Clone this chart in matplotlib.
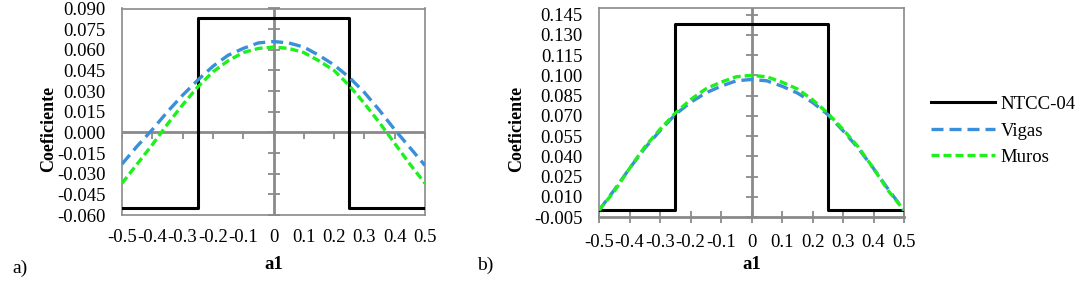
import numpy as np
import matplotlib
matplotlib.use('Agg')
import matplotlib.pyplot as plt

plt.rcParams['font.family'] = ['Liberation Serif', 'DejaVu Serif']
plt.rcParams['axes.unicode_minus'] = False

# a1 positions (shared)
a1 = [-0.5, -0.45, -0.4, -0.35, -0.3, -0.25, -0.2, -0.15, -0.1, -0.05, 0.0,
      0.05, 0.1, 0.15, 0.2, 0.25, 0.3, 0.35, 0.4, 0.45, 0.5]

# panel a)
ntcc_x = [-0.5, -0.25, -0.25, 0.25, 0.25, 0.5]
ntcc_a = [-0.055, -0.055, 0.083, 0.083, -0.055, -0.055]
vigas_a = [-0.023, -0.010, 0.002, 0.015, 0.027, 0.038, 0.048, 0.056, 0.061, 0.065, 0.066,
           0.065, 0.062, 0.056, 0.049, 0.040, 0.029, 0.016, 0.002, -0.011, -0.024]
muros_a = [-0.037, -0.023, -0.009, 0.006, 0.020, 0.033, 0.044, 0.052, 0.058, 0.061, 0.062,
           0.061, 0.058, 0.052, 0.045, 0.034, 0.021, 0.007, -0.008, -0.023, -0.037]

# panel b)
ntcc_b = [0.0, 0.0, 0.138, 0.138, 0.0, 0.0]
vigas_b = [0.000, 0.015, 0.031, 0.046, 0.059, 0.071, 0.080, 0.087, 0.092, 0.096, 0.097,
           0.096, 0.092, 0.087, 0.080, 0.071, 0.059, 0.046, 0.031, 0.015, 0.000]
muros_b = [0.000, 0.014, 0.031, 0.047, 0.060, 0.072, 0.082, 0.090, 0.095, 0.099, 0.100,
           0.099, 0.095, 0.090, 0.082, 0.072, 0.060, 0.047, 0.031, 0.014, 0.000]

xticks = [-0.5, -0.4, -0.3, -0.2, -0.1, 0, 0.1, 0.2, 0.3, 0.4, 0.5]
xticklabels = ['-0.5', '-0.4', '-0.3', '-0.2', '-0.1', '0', '0.1', '0.2', '0.3', '0.4', '0.5']
yticks_a = [-0.060, -0.045, -0.030, -0.015, 0.000, 0.015, 0.030, 0.045, 0.060, 0.075, 0.090]
yticks_b = [-0.005, 0.010, 0.025, 0.040, 0.055, 0.070, 0.085, 0.100, 0.115, 0.130, 0.145]

blue = '#3a8fd9'
green = '#1ef01e'
gray = '#8a8a8a'

fig = plt.figure(figsize=(10.82, 2.84), dpi=100)
ax1 = fig.add_axes([122/1082, 1-215/284, 303/1082, 206.5/284])
ax2 = fig.add_axes([599/1082, 1-217/284, 305/1082, 209/284])


def draw(ax, ntcc, vigas, muros, yticks, ylim, xaxis_at_zero):
    ax.plot(ntcc_x, ntcc, color='black', lw=2.2, label='NTCC-04', zorder=4)
    ax.plot(a1, vigas, color=blue, lw=2.4, dashes=(3.6, 1.8), label='Vigas', zorder=5)
    ax.plot(a1, muros, color=green, lw=2.4, dashes=(2.4, 1.2), label='Muros', zorder=6)
    ax.set_xlim(-0.5, 0.5)
    ax.set_ylim(*ylim)
    ax.set_xticks(xticks)
    ax.set_xticklabels(xticklabels)
    ax.set_yticks(yticks)
    ax.set_yticklabels(['%.3f' % v for v in yticks])
    ax.tick_params(axis='y', length=0, pad=12, labelsize=13.5)
    for s in ax.spines.values():
        s.set_color(gray)
        s.set_linewidth(1.2)
    # vertical axis through x=0 with its tick marks
    ax.axvline(0, color=gray, lw=2, zorder=2)
    ax.plot([0] * len(yticks), yticks, ls='none', marker='_', ms=9, mew=1.3,
            color=gray, zorder=2, clip_on=False)
    if xaxis_at_zero:
        ax.axhline(0, color=gray, lw=2, zorder=2)
        ax.plot(xticks, [0] * len(xticks), ls='none', marker=3, ms=5, mew=1.3,
                color=gray, zorder=2)
        ax.tick_params(axis='x', length=0, pad=10, labelsize=13.5)
    else:
        ax.spines['bottom'].set_linewidth(2)
        ax.tick_params(axis='x', direction='inout', length=9, width=1.3, color=gray,
                       pad=7.5, labelsize=13.5)
    ax.set_ylabel('Coeficiente', fontsize=13, fontweight='bold')
    ax.set_xlabel('a1', fontsize=13.5, fontweight='bold')


draw(ax1, ntcc_a, vigas_a, muros_a, yticks_a, (-0.060, 0.090), True)
draw(ax2, ntcc_b, vigas_b, muros_b, yticks_b, (-0.005, 0.150), False)

ax1.yaxis.set_label_coords(-0.213, 0.416)
ax2.yaxis.set_label_coords(-0.241, 0.421)
ax1.xaxis.set_label_coords(0.5, -0.2)
ax2.xaxis.set_label_coords(0.5, -0.188)

fig.text(12/1082, 1-268/284, 'a)', fontsize=14, va='center')
fig.text(477/1082, 1-265/284, 'b)', fontsize=14, va='center')

handles, labels = ax2.get_legend_handles_labels()
fig.legend(handles, labels, loc='center left', bbox_to_anchor=(931/1082, 1-131/284),
           frameon=False, fontsize=13.5, handlelength=3.4, handletextpad=0.3,
           labelspacing=0.5, borderpad=0, borderaxespad=0)

fig.savefig('out.png', dpi=100)
